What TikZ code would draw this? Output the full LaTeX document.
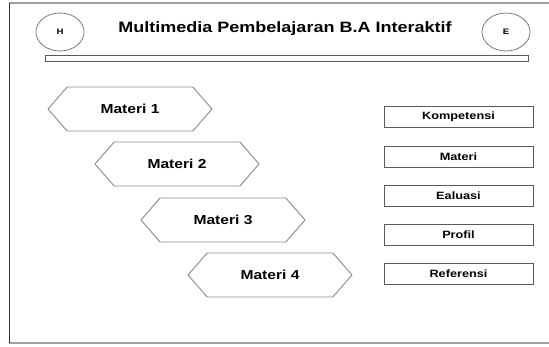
\documentclass[tikz,border=0pt]{standalone}
\usepackage{fontspec}
\usetikzlibrary{shapes.symbols,shapes.geometric}
\newfontfamily\hfont[FakeStretch=1.2]{Liberation Sans}
\definecolor{hexgray}{HTML}{8A8A8A}
\definecolor{boxgray}{HTML}{5A5A5A}
\definecolor{framegray}{HTML}{A0A0A0}
\begin{document}
\begin{tikzpicture}[x=1pt,y=-1pt,
  hexbox/.style={shape=signal, signal to=east and west, signal pointer angle=98,
    draw=hexgray, line width=0.9pt, minimum width=164pt, minimum height=44pt, inner sep=0pt,
    font=\hfont\bfseries\fontsize{13}{15}\selectfont},
  menubox/.style={draw=boxgray, line width=0.9pt, minimum width=149pt, minimum height=21pt, inner sep=0pt,
    font=\hfont\bfseries\fontsize{10.6}{13}\selectfont},
  headell/.style={ellipse, draw=boxgray!80, line width=0.8pt, minimum width=48pt, minimum height=38pt, inner sep=0pt,
    font=\hfont\bfseries\fontsize{8}{9}\selectfont}]
\useasboundingbox (0,0) rectangle (549,347);
% frame
\draw[framegray, line width=1.2pt] (549,3) -- (9,3);
\draw[framegray, line width=1.2pt] (9,343) -- (549,343);
\draw[black!80, line width=0.9pt] (9,3) -- (9,343);
% header
\node[headell] (h) at (60,32) {H};
\node[headell] (e) at (506,32) {E};
\node[anchor=base, inner sep=0pt, font=\hfont\bfseries\fontsize{15}{18}\selectfont] (title) at (285,33) {Multimedia Pembelajaran B.A Interaktif};
\draw[boxgray, line width=0.7pt, fill=white] (45,55.5) rectangle (528,61.5);
% hexagons
\node[hexbox] (m1) at (130,109) {Materi 1};
\node[hexbox] (m2) at (177,164) {Materi 2};
\node[hexbox] (m3) at (223,220) {Materi 3};
\node[hexbox] (m4) at (270,275) {Materi 4};
% menu boxes
\node[menubox] (b1) at (458.5,117) {Kompetensi};
\node[menubox] (b2) at (458.5,156.5) {Materi};
\node[menubox] (b3) at (458.5,196) {Ealuasi};
\node[menubox] (b4) at (458.5,235) {Profil};
\node[menubox] (b5) at (458.5,273.5) {Referensi};
\end{tikzpicture}
\end{document}
